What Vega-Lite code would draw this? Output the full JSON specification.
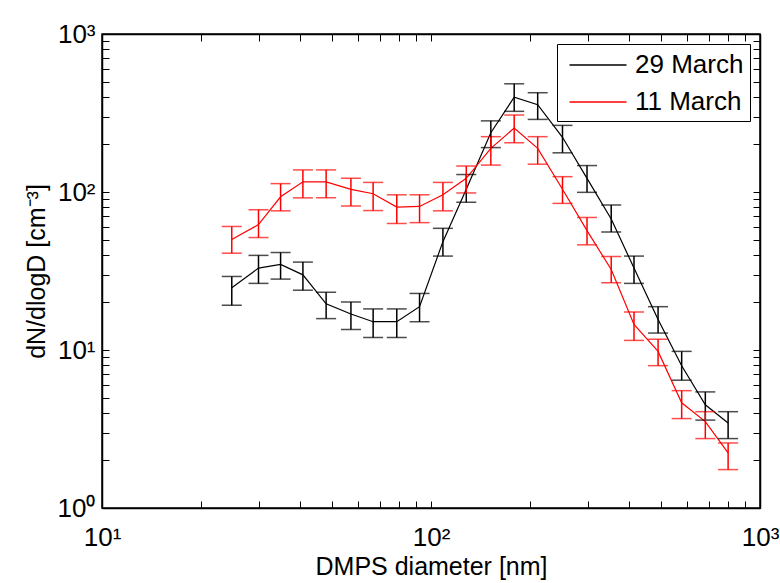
{
  "$schema": "https://vega.github.io/schema/vega-lite/v6.json",
  "width": 658,
  "height": 474,
  "autosize": {"type": "none"},
  "padding": {"left": 102, "top": 34, "right": 20, "bottom": 75},
  "config": {
    "font": "Liberation Sans",
    "view": {"stroke": "black", "strokeWidth": 1.5},
    "axis": {"grid": false, "domainColor": "black", "domainWidth": 1.5, "tickColor": "black", "tickWidth": 1, "labelColor": "black", "titleColor": "black", "labelFont": "Liberation Sans", "titleFont": "Liberation Sans"}
  },
  "data": {
    "values": [
      {"d": 24.8, "series": "29 March", "n": 24.8, "lo": 19.2, "hi": 29.2},
      {"d": 29.9, "series": "29 March", "n": 33.0, "lo": 26.4, "hi": 39.7},
      {"d": 34.9, "series": "29 March", "n": 34.8, "lo": 28.1, "hi": 41.4},
      {"d": 40.8, "series": "29 March", "n": 29.9, "lo": 23.9, "hi": 36.0},
      {"d": 48.0, "series": "29 March", "n": 19.6, "lo": 15.8, "hi": 23.2},
      {"d": 57.1, "series": "29 March", "n": 16.9, "lo": 13.5, "hi": 20.1},
      {"d": 66.7, "series": "29 March", "n": 15.1, "lo": 12.0, "hi": 18.2},
      {"d": 78.7, "series": "29 March", "n": 15.1, "lo": 12.0, "hi": 18.2},
      {"d": 92.3, "series": "29 March", "n": 18.8, "lo": 15.1, "hi": 22.8},
      {"d": 108.7, "series": "29 March", "n": 48.5, "lo": 39.3, "hi": 58.9},
      {"d": 128, "series": "29 March", "n": 104, "lo": 86.1, "hi": 129},
      {"d": 152, "series": "29 March", "n": 237, "lo": 191, "hi": 282},
      {"d": 179, "series": "29 March", "n": 398, "lo": 324, "hi": 484},
      {"d": 211, "series": "29 March", "n": 357, "lo": 288, "hi": 425},
      {"d": 251, "series": "29 March", "n": 222, "lo": 177, "hi": 264},
      {"d": 298, "series": "29 March", "n": 122, "lo": 99.5, "hi": 147},
      {"d": 353, "series": "29 March", "n": 67.5, "lo": 55.8, "hi": 82.8},
      {"d": 414, "series": "29 March", "n": 33.0, "lo": 26.4, "hi": 39.3},
      {"d": 490, "series": "29 March", "n": 15.6, "lo": 12.8, "hi": 18.8},
      {"d": 578, "series": "29 March", "n": 7.95, "lo": 6.44, "hi": 9.8},
      {"d": 682, "series": "29 March", "n": 4.5, "lo": 3.6, "hi": 5.43},
      {"d": 800, "series": "29 March", "n": 3.45, "lo": 2.75, "hi": 4.07},
      {"d": 24.8, "series": "11 March", "n": 50.1, "lo": 41.0, "hi": 60.5},
      {"d": 29.9, "series": "11 March", "n": 62.2, "lo": 51.5, "hi": 77.2},
      {"d": 34.9, "series": "11 March", "n": 93.3, "lo": 76.0, "hi": 113},
      {"d": 40.8, "series": "11 March", "n": 116, "lo": 91.8, "hi": 138},
      {"d": 48.0, "series": "11 March", "n": 116, "lo": 92, "hi": 138},
      {"d": 57.1, "series": "11 March", "n": 104, "lo": 81.5, "hi": 122},
      {"d": 66.7, "series": "11 March", "n": 97.5, "lo": 76.3, "hi": 115},
      {"d": 78.7, "series": "11 March", "n": 80.2, "lo": 63.2, "hi": 96},
      {"d": 92.3, "series": "11 March", "n": 81, "lo": 64, "hi": 96},
      {"d": 108.7, "series": "11 March", "n": 96, "lo": 76, "hi": 115},
      {"d": 128, "series": "11 March", "n": 122, "lo": 98.6, "hi": 146},
      {"d": 152, "series": "11 March", "n": 189, "lo": 148, "hi": 224},
      {"d": 179, "series": "11 March", "n": 254, "lo": 205, "hi": 307},
      {"d": 211, "series": "11 March", "n": 189, "lo": 150, "hi": 224},
      {"d": 251, "series": "11 March", "n": 104, "lo": 84.7, "hi": 125},
      {"d": 298, "series": "11 March", "n": 57, "lo": 46.3, "hi": 69},
      {"d": 353, "series": "11 March", "n": 32.3, "lo": 26.6, "hi": 39.1},
      {"d": 414, "series": "11 March", "n": 14.5, "lo": 11.5, "hi": 17.4},
      {"d": 490, "series": "11 March", "n": 9.8, "lo": 7.96, "hi": 11.7},
      {"d": 578, "series": "11 March", "n": 4.63, "lo": 3.68, "hi": 5.53},
      {"d": 682, "series": "11 March", "n": 3.52, "lo": 2.75, "hi": 4.07},
      {"d": 800, "series": "11 March", "n": 2.23, "lo": 1.75, "hi": 2.58}
    ]
  },
  "resolve": {"axis": {"x": "independent", "y": "independent"}},
  "layer": [
    {
      "mark": {"type": "line", "interpolate": "linear", "strokeWidth": 1.2},
      "encoding": {
        "x": {
          "field": "d", "type": "quantitative",
          "scale": {"type": "log", "domain": [10, 1000]},
          "axis": {
            "orient": "bottom",
            "values": [10, 20, 30, 40, 50, 60, 70, 80, 90, 100, 200, 300, 400, 500, 600, 700, 800, 900, 1000],
            "labelExpr": "datum.value == 10 ? '10¹' : datum.value == 100 ? '10²' : datum.value == 1000 ? '10³' : ''",
            "tickSize": -7, "labelPadding": 23, "labelFontSize": 26, "labelFlush": false, "labelOverlap": false,
            "title": "DMPS diameter [nm]", "titleFontSize": 25, "titleFontWeight": "normal", "titlePadding": 4
          }
        },
        "y": {
          "field": "n", "type": "quantitative",
          "scale": {"type": "log", "domain": [1, 1000]},
          "axis": {
            "orient": "left",
            "values": [1, 2, 3, 4, 5, 6, 7, 8, 9, 10, 20, 30, 40, 50, 60, 70, 80, 90, 100, 200, 300, 400, 500, 600, 700, 800, 900, 1000],
            "labelExpr": "datum.value == 1 ? '10⁰' : datum.value == 10 ? '10¹' : datum.value == 100 ? '10²' : datum.value == 1000 ? '10³' : ''",
            "tickSize": -7, "labelPadding": 14, "labelFontSize": 26, "labelFlush": false, "labelOverlap": false,
            "title": "dN/dlogD [cm⁻³]", "titleFontSize": 25, "titleFontWeight": "normal", "titlePadding": 8
          }
        },
        "color": {
          "field": "series", "type": "nominal",
          "scale": {"domain": ["29 March", "11 March"], "range": ["#000000", "#ff0000"]},
          "legend": {
            "orient": "none", "legendX": 455, "legendY": 10, "title": null,
            "symbolType": "M-2,0H2", "symbolSize": 812, "symbolStrokeWidth": 1.5, "symbolOffset": 20,
            "labelFontSize": 26, "labelOffset": 22, "labelColor": "black",
            "strokeColor": "black", "fillColor": "white", "padding": 6, "rowPadding": 9
          }
        }
      }
    },
    {
      "mark": {"type": "errorbar", "ticks": {"size": 20}, "thickness": 1.5},
      "encoding": {
        "x": {
          "field": "d", "type": "quantitative",
          "axis": {
            "orient": "top",
            "values": [10, 20, 30, 40, 50, 60, 70, 80, 90, 100, 200, 300, 400, 500, 600, 700, 800, 900, 1000],
            "labels": false, "tickSize": -7, "title": null
          }
        },
        "y": {
          "field": "lo", "type": "quantitative",
          "axis": {
            "orient": "right",
            "values": [1, 2, 3, 4, 5, 6, 7, 8, 9, 10, 20, 30, 40, 50, 60, 70, 80, 90, 100, 200, 300, 400, 500, 600, 700, 800, 900, 1000],
            "labels": false, "tickSize": -7, "title": null
          }
        },
        "y2": {"field": "hi"},
        "color": {"field": "series", "type": "nominal", "legend": null}
      }
    }
  ]
}
